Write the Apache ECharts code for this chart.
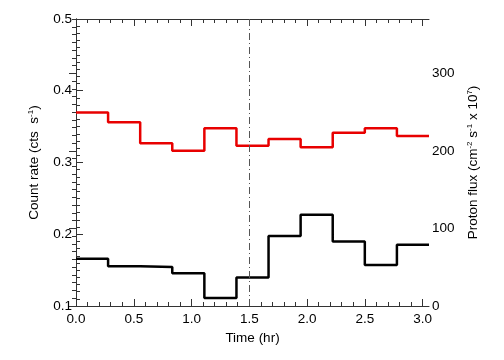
<!DOCTYPE html>
<html>
<head>
<meta charset="utf-8">
<script src="https://cdn.jsdelivr.net/npm/echarts@6/dist/echarts.min.js"></script>
<style>html,body{margin:0;padding:0;background:#fff}#c{width:504px;height:360px}</style>
</head>
<body>
<div id="c"></div>
<script>
// Bin edges (hr), 1000 s bins
const binEdges = [0, 0.2778, 0.5556, 0.8333, 1.1111, 1.3889, 1.6667, 1.9444, 2.2222, 2.5, 2.7778, 3.0556];
// Count rate (cts s^-1), black histogram, left axis
const countRate = [0.1657, 0.1555, 0.1545, 0.1457, 0.1112, 0.1396, 0.1975, 0.2273, 0.1900, 0.1573, 0.1853];
// Proton flux (cm^-2 s^-1 x 10^7), red histogram, right axis
const protonFlux = [249.4, 237.0, 209.7, 200.1, 229.2, 206.6, 215.3, 204.5, 223.5, 229.2, 219.2];
// Marker time (hr)
const markerTime = 1.5;
// Tick labels
const xTickLabels = [0, 0.5, 1.0, 1.5, 2.0, 2.5, 3.0];
const leftTickLabels = [0.1, 0.2, 0.3, 0.4, 0.5];
const rightTickLabels = [0, 100, 200, 300];

const xMinor = []; for (let i = 0; i <= 30; i++) xMinor.push(+(i * 0.1).toFixed(2));
const rMinor = []; for (let i = 0; i <= 37; i++) rMinor.push(i * 10);

function stepData(edges, vals) {
  const d = vals.map((v, i) => [edges[i], v]);
  d.push([edges[edges.length - 1], vals[vals.length - 1]]);
  return d;
}

const FONT = 'Liberation Sans';
const AX = '#333';
const xMin = binEdges[0], xMax = binEdges[binEdges.length - 1];
const rMax = 370;

const chart = echarts.init(document.getElementById('c'), null, {renderer: 'canvas'});
const baseX = {type: 'value', min: xMin, max: xMax, splitLine: {show: false}};
const sup = {fontSize: 8, verticalAlign: 'top', fontFamily: FONT, color: '#000', lineHeight: 16};
const nameStyle = {fontSize: 13.5, fontFamily: FONT, color: '#000', lineHeight: 16, rich: {sup: sup}};

chart.setOption({
  animation: false,
  backgroundColor: '#fff',
  grid: {left: 76, right: 75, top: 19, bottom: 54, containLabel: false},
  xAxis: [
    Object.assign({}, baseX, {
      position: 'bottom', name: 'Time (hr)', nameLocation: 'middle', nameGap: 20,
      nameTextStyle: {fontSize: 13.5, fontFamily: FONT, color: '#000'},
      axisLine: {show: true, lineStyle: {color: AX, width: 1}},
      axisTick: {show: true, inside: true, length: 7, customValues: xTickLabels, lineStyle: {color: AX}},
      axisLabel: {show: true, customValues: xTickLabels, margin: 6, fontSize: 13.5, fontFamily: FONT, color: '#000',
        formatter: v => v.toFixed(1)}
    }),
    Object.assign({}, baseX, {
      position: 'bottom', axisLine: {show: false},
      axisTick: {show: true, inside: true, length: 4, customValues: xMinor, lineStyle: {color: AX}},
      axisLabel: {show: false}
    }),
    Object.assign({}, baseX, {
      position: 'top', axisLine: {show: true, lineStyle: {color: AX, width: 1}},
      axisTick: {show: true, inside: true, length: 7, customValues: xTickLabels, lineStyle: {color: AX}},
      axisLabel: {show: false}
    }),
    Object.assign({}, baseX, {
      position: 'top', axisLine: {show: false},
      axisTick: {show: true, inside: true, length: 4, customValues: xMinor, lineStyle: {color: AX}},
      axisLabel: {show: false}
    })
  ],
  yAxis: [
    {
      type: 'value', position: 'left', min: 0.1, max: 0.5, interval: 0.1,
      name: 'Count rate (cts  s{sup|-1})', nameLocation: 'middle', nameGap: 30, nameRotate: 90,
      nameTextStyle: nameStyle,
      splitLine: {show: false},
      axisLine: {show: true, lineStyle: {color: AX, width: 1}},
      axisTick: {show: true, inside: true, length: 7, lineStyle: {color: AX}},
      minorTick: {show: true, splitNumber: 10, length: 4, lineStyle: {color: AX}},
      axisLabel: {margin: 4, fontSize: 13.5, fontFamily: FONT, color: '#000', formatter: v => v.toFixed(1),
        customValues: leftTickLabels}
    },
    {
      type: 'value', position: 'right', min: 0, max: rMax,
      name: 'Proton flux (cm{sup|-2} s{sup|-1} x 10{sup|7})', nameLocation: 'middle', nameGap: 23, nameRotate: 90,
      nameTextStyle: nameStyle,
      splitLine: {show: false},
      axisLine: {show: true, lineStyle: {color: AX, width: 1}},
      axisTick: {show: true, inside: true, length: 7, customValues: rightTickLabels, lineStyle: {color: AX}},
      axisLabel: {margin: 3, fontSize: 13.5, fontFamily: FONT, color: '#000', customValues: rightTickLabels,
        formatter: v => String(v)}
    },
    {
      type: 'value', position: 'right', min: 0, max: rMax,
      splitLine: {show: false}, axisLine: {show: false},
      axisTick: {show: true, inside: true, length: 4, customValues: rMinor, lineStyle: {color: AX}},
      axisLabel: {show: false}
    }
  ],
  series: [
    {
      type: 'line', name: 'Count rate', xAxisIndex: 0, yAxisIndex: 0, step: 'end',
      data: stepData(binEdges, countRate), symbol: 'none',
      lineStyle: {color: '#000', width: 2.5},
      markLine: {
        silent: true, symbol: 'none', label: {show: false},
        lineStyle: {color: '#555', width: 1, type: [7, 3, 1, 3]},
        data: [{xAxis: markerTime}]
      }
    },
    {
      type: 'line', name: 'Proton flux', xAxisIndex: 0, yAxisIndex: 1, step: 'end',
      data: stepData(binEdges, protonFlux), symbol: 'none',
      lineStyle: {color: '#e80000', width: 2.5}
    }
  ]
});
</script>
</body>
</html>
